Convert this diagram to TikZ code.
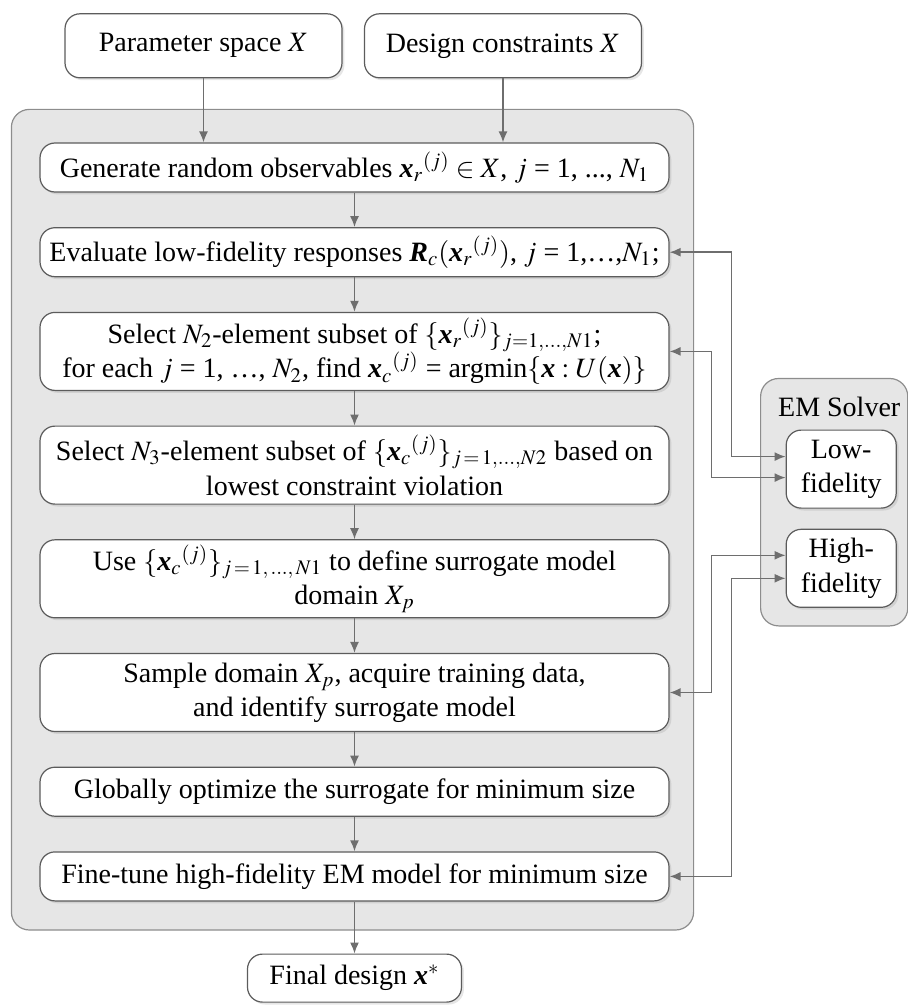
\documentclass[tikz,border=0pt]{standalone}
\usepackage{amsmath}
\usepackage{mathptmx}
\usepackage{fontspec}
\setmainfont{Liberation Serif}
\usepackage{tikz}
\usetikzlibrary{positioning, calc, shadows, backgrounds, arrows.meta}
\definecolor{linegray}{HTML}{6E6E6E}
\definecolor{boxgray}{HTML}{5C5C5C}
\definecolor{panelgray}{HTML}{E6E6E6}
\newcommand{\bx}{\text{\bfseries\itshape x}}
\newcommand{\bR}{\text{\bfseries\itshape R}}
\tikzstyle{stage} = [rectangle, rounded corners=7.5pt, minimum width=314.5pt, minimum height=24.5pt, inner xsep=2pt, inner ysep=0.5pt, text centered, align=center, draw=boxgray, fill=white, line width=0.6pt, drop shadow={shadow xshift=1.2pt, shadow yshift=-1.2pt, opacity=0.2}]
\tikzstyle{inputbox} = [stage, minimum width=138.5pt, minimum height=32pt]
\tikzstyle{solverbox} = [stage, minimum width=55pt, minimum height=39pt]
\tikzstyle{panel} = [draw=boxgray!70, fill=panelgray, line width=0.6pt, rounded corners=9pt]
\tikzstyle{arrow} = [line width=0.75pt, draw=linegray, -{Latex[length=5.5pt,width=4.5pt]}]
\tikzstyle{link} = [arrow, {Latex[length=5.5pt,width=4.5pt]}-{Latex[length=5.5pt,width=4.5pt]}]
\tikzstyle{every node}=[font=\fontsize{14}{17.2}\selectfont]

\begin{document}
\begin{tikzpicture}[node distance=17.25pt]
		\useasboundingbox (0,0) rectangle (454pt,-503pt);
		% main chain
		\node (box1) [stage] at (177.25pt,-83.75pt) {Generate random observables ${\bx_r}^{(j)} \in X$, $j$ = 1, ..., $N_1$};
		\node (box2) [stage, below=of box1] {Evaluate low-fidelity responses $\bR_c({\bx_r}^{(j)})$, $j$ = 1,…,$N_1$;};
		\node (box3) [stage, minimum height=39pt, below=of box2] {Select $N_2$-element subset of $\{{\bx_r}^{(j)}\}_{j=1,\ldots,N1}$;\\ for each $j$ = 1, …, $N_2$, find ${\bx_c}^{(j)}$ = argmin$\{\bx : U(\bx)\}$};
		\node (box4) [stage, minimum height=39pt, below=of box3] {Select $N_3$-element subset of $\{{\bx_c}^{(j)}\}_{j\,=\,1,\ldots,N2}$ based on\\ lowest constraint violation};
		\node (box5) [stage, minimum height=39pt, below=of box4] {Use $\{{\bx_c}^{(j)}\}_{j\,=\,1,\,\ldots,\,N1}$ to define surrogate model\\ domain $X_p$};
		\node (box6) [stage, minimum height=39pt, below=of box5] {Sample domain $X_p$, acquire training data,\\ and identify surrogate model};
		\node (box7) [stage, below=of box6] {Globally optimize the surrogate for minimum size};
		\node (box8) [stage, below=of box7] {Fine-tune high-fidelity EM model for minimum size};
		\node (final) [stage, minimum width=107pt, minimum height=24pt, below=26pt of box8] {Final design $\bx^*$};
		% inputs
		\node (param) [inputbox, above=32pt of box1, xshift=-75.5pt] {Parameter space $X$};
		\node (constr) [inputbox, above=32pt of box1, xshift=74.25pt] {Design constraints $X$};
		% solver
		\node (low) [solverbox, right=58pt of box4, yshift=-2pt] {Low-\\fidelity};
		\node (high) [solverbox, below=10pt of low] {High-\\fidelity};
		\node (em) at ($(low.north)+(-1pt,11.5pt)$) {EM Solver};
		\begin{pgfonlayer}{background}
			\draw [panel] ($(box1.north west)+(-14pt,16.5pt)$) rectangle ($(box8.south east)+(12pt,-14.25pt)$);
			\draw [panel] ($(low.north west)+(-12.5pt,25.5pt)$) rectangle ($(high.south east)+(5.5pt,-9pt)$);
		\end{pgfonlayer}
		\draw [arrow](param) -- (param |- box1.north);
		\draw [arrow](constr) -- (constr |- box1.north);
		\draw [arrow](box1) -- (box2);
		\draw [arrow](box2) -- (box3);
		\draw [arrow](box3) -- (box4);
		\draw [arrow](box4) -- (box5);
		\draw [arrow](box5) -- (box6);
		\draw [arrow](box6) -- (box7);
		\draw [arrow](box7) -- (box8);
		\draw [arrow](box8) -- (final);
		\draw [link](box2.east) -- ++(31pt,0) |- ([yshift=6.25pt]low.west);
		\draw [link](box3.east) -- ++(21pt,0) |- ([yshift=-4.25pt]low.west);
		\draw [link](box6.east) -- ++(21pt,0) |- ([yshift=6.5pt]high.west);
		\draw [link](box8.east) -- ++(31pt,0) |- ([yshift=-5pt]high.west);
	\end{tikzpicture}
\end{document}
